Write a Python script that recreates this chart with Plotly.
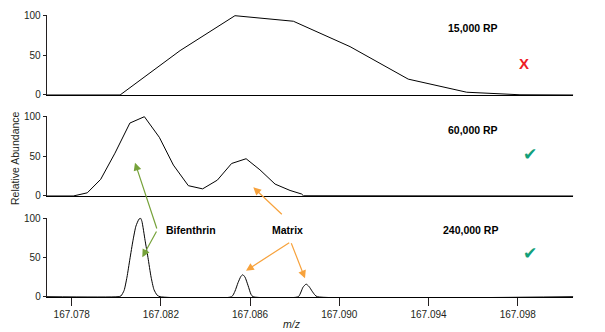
import plotly.graph_objects as go

W, H = 605, 332

# ---------------- data ----------------
mz_15k = [167.07688, 167.08017, 167.08286, 167.08532, 167.08794, 167.09048,
          167.09309, 167.09571, 167.09810, 167.10049]
ab_15k = [0, 0, 56, 100, 93, 61, 20, 3.5, 0.3, 0]

mz_60k = [167.07688, 167.07807, 167.07870, 167.07930, 167.07994, 167.08061,
          167.08126, 167.08193, 167.08256, 167.08323, 167.08387, 167.08453,
          167.08517, 167.08582, 167.08644, 167.08712, 167.08779, 167.08831,
          167.08839, 167.10049]
ab_60k = [0, 0, 4, 21, 54, 92, 100, 74, 39, 13, 9, 20, 41, 47, 33, 15, 7, 2.5,
          0.3, 0]

mz_240k = [167.07688,
           167.08008, 167.08021, 167.08035, 167.08048, 167.08061, 167.08075,
           167.08088, 167.08102, 167.08109, 167.08115, 167.08129, 167.08142,
           167.08156, 167.08169, 167.08183, 167.08196,
           167.08517, 167.08532, 167.08546, 167.08559, 167.08567, 167.08577,
           167.08591, 167.08604, 167.08613,
           167.08816, 167.08828, 167.08837, 167.08851, 167.08864, 167.08878,
           167.08891, 167.08901,
           167.10049]
ab_240k = [0,
           0, 1, 8, 25, 48, 72, 90, 99, 100, 96, 72, 50, 25, 9, 2, 0,
           0, 7, 18, 26, 28, 25, 14, 3, 0,
           0, 6, 12, 16, 13, 7, 2, 0,
           0]

x_ticks = [167.078, 167.082, 167.086, 167.090, 167.094, 167.098]
x_tick_labels = ["167.078", "167.082", "167.086", "167.090", "167.094", "167.098"]
y_ticks = [0, 50, 100]
panel_labels = ["15,000 RP", "60,000 RP", "240,000 RP"]

# ---------------- layout helpers ----------------
FONT = "Liberation Sans, Arial, Helvetica, sans-serif"
INK = "#231f20"
X_RANGE = [167.07688, 167.10049]
X_DOM = [46.7 / W, 573.3 / W]
R0, R1 = -0.6, 101.0


def ydomain(p0, p100):
    s = (p0 - p100) / 100.0
    bottom = p0 + (-R0) * s
    top = p100 - (R1 - 100) * s
    return [1 - bottom / H, 1 - top / H]


def px(x):
    return x / W


def py(y):
    return 1 - y / H


panels = [(95.0, 15.7), (196.0, 116.7), (296.7, 218.3)]
series = [(mz_15k, ab_15k), (mz_60k, ab_60k), (mz_240k, ab_240k)]

fig = go.Figure()
for i, (mz, ab) in enumerate(series):
    n = "" if i == 0 else str(i + 1)
    last = (i == 2)
    line = dict(color="black", width=1)
    if last:
        line.update(shape="spline", smoothing=0.6)
    fig.add_trace(go.Scatter(x=mz, y=ab, mode="lines", line=line,
                             xaxis="x" + n, yaxis="y" + n,
                             showlegend=False, hoverinfo="skip"))
    fig.layout["xaxis" + n] = dict(
        domain=X_DOM, range=X_RANGE, anchor="y" + n, automargin=False,
        showline=True, linecolor="black", linewidth=1.2,
        showgrid=False, zeroline=False,
        tickmode="array", tickvals=x_ticks if last else [],
        ticktext=x_tick_labels if last else [],
        ticks="outside" if last else "", ticklen=8, tickcolor=INK,
        showticklabels=last,
        tickfont=dict(size=10, color=INK, family=FONT),
    )
    fig.layout["yaxis" + n] = dict(
        domain=ydomain(*panels[i]), range=[R0, R1], anchor="x" + n, automargin=False,
        showline=True, linecolor=INK, linewidth=1,
        showgrid=False, zeroline=False,
        tickmode="array", tickvals=y_ticks,
        ticks="outside", ticklen=3, tickcolor=INK,
        tickfont=dict(size=10, color=INK, family=FONT),
    )

ann = []
# panel labels
label_pos = [(499.5, 28.5), (499.5, 129.5), (499.5, 229.5)]
for t, (x, y) in zip(panel_labels, label_pos):
    ann.append(dict(text="<b>%s</b>" % t, x=px(x), y=py(y), xref="paper", yref="paper",
                    xanchor="right", yanchor="middle", showarrow=False,
                    font=dict(size=10.5, family=FONT, color="black")))
# X and checks
ann.append(dict(text="<b>X</b>", x=px(524), y=py(63.5), xref="paper", yref="paper",
                xanchor="center", yanchor="middle", showarrow=False,
                font=dict(size=15, family=FONT, color="#ee1c25")))
for yy in (153.5, 253.5):
    ann.append(dict(text="\u2714", x=px(530), y=py(yy), xref="paper", yref="paper",
                    xanchor="center", yanchor="middle", showarrow=False,
                    font=dict(size=17, family="DejaVu Sans", color="#12a07a")))
# compound labels
ann.append(dict(text="<b>Bifenthrin</b>", x=px(190.5), y=py(230.3), xref="paper", yref="paper",
                xanchor="center", yanchor="middle", showarrow=False,
                font=dict(size=10.5, family=FONT, color="black")))
ann.append(dict(text="<b>Matrix</b>", x=px(287), y=py(229.5), xref="paper", yref="paper",
                xanchor="center", yanchor="middle", showarrow=False,
                font=dict(size=10.5, family=FONT, color="black")))
# axis titles
ann.append(dict(text="Relative Abundance", x=px(15), y=py(158), xref="paper", yref="paper",
                xanchor="center", yanchor="middle", showarrow=False, textangle=-90,
                font=dict(size=10.5, family=FONT, color=INK)))
ann.append(dict(text="<i>m/z</i>", x=px(292), y=py(323.5), xref="paper", yref="paper",
                xanchor="center", yanchor="middle", showarrow=False,
                font=dict(size=10.5, family=FONT, color=INK)))

# arrows (head, tail) in pixels
GREEN = "#76a23a"
ORANGE = "#f7a23c"
arrows = [
    ((135.0, 162.7), (157.3, 230.0), GREEN),
    ((142.3, 257.3), (157.3, 230.0), GREEN),
    ((253.3, 187.3), (283.3, 215.7), ORANGE),
    ((246.0, 270.7), (290.7, 241.7), ORANGE),
    ((305.0, 278.3), (290.7, 241.7), ORANGE),
]
for (hx, hy), (tx, ty), col in arrows:
    ann.append(dict(text="", x=px(hx), y=py(hy), xref="paper", yref="paper",
                    ax=tx - hx, ay=ty - hy, axref="pixel", ayref="pixel",
                    showarrow=True, arrowhead=2, arrowsize=1.3, arrowwidth=1.2,
                    arrowcolor=col))

fig.update_layout(
    width=W, height=H, margin=dict(l=0, r=0, t=0, b=0, autoexpand=False),
    autosize=False,
    paper_bgcolor="white", plot_bgcolor="white",
    font=dict(family=FONT, color=INK),
    annotations=ann, showlegend=False,
)

fig.write_html("out.html")
